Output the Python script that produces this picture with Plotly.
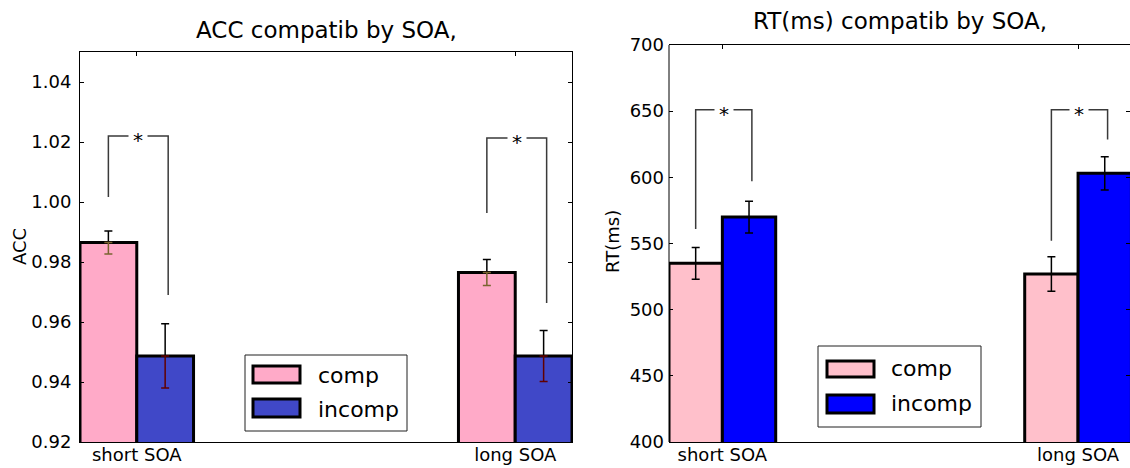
import plotly.graph_objects as go

W, H = 1130, 468

# ---------------- data ----------------
groups = ["short SOA", "long SOA"]
group_pos = [0, 1]
bar_width = 0.15
series_names = ["comp", "incomp"]

acc_comp = [0.9865, 0.9765]
acc_comp_err = [0.0038, 0.0043]
acc_incomp = [0.9487, 0.9487]
acc_incomp_err = [0.0107, 0.0085]

rt_comp = [535, 527]
rt_comp_err = [12, 13]
rt_incomp = [570, 603]
rt_incomp_err = [12, 12.5]

acc_yticks = [0.92, 0.94, 0.96, 0.98, 1.00, 1.02, 1.04]
rt_yticks = [400, 450, 500, 550, 600, 650, 700]

# significance brackets: (left arm end, bar height, right arm end)
acc_bracket_top = [1.022, 1.0213]
acc_bracket_left = [1.0017, 0.9963]
acc_bracket_right = [0.969, 0.9663]
rt_bracket_top = [651, 651]
rt_bracket_left = [561, 552]
rt_bracket_right = [597, 628.5]


def px_x(p):
    return p / W


def px_y(p):
    return 1 - p / H


FONT = "DejaVu Sans"
fig = go.Figure()

panels = [
    dict(xa="x", ya="y", comp=acc_comp, comp_err=acc_comp_err, incomp=acc_incomp,
         incomp_err=acc_incomp_err, colors=["#ffaac8", "#4048c8"],
         low_err_colors=["#7a6430", "#600000"],
         btop=acc_bracket_top, bl=acc_bracket_left, br=acc_bracket_right),
    dict(xa="x2", ya="y2", comp=rt_comp, comp_err=rt_comp_err, incomp=rt_incomp,
         incomp_err=rt_incomp_err, colors=["#ffc0cb", "#0000ff"],
         low_err_colors=["black", "black"],
         btop=rt_bracket_top, bl=rt_bracket_left, br=rt_bracket_right),
]

annotations = []
for P in panels:
    vals = [P["comp"], P["incomp"]]
    errs = [P["comp_err"], P["incomp_err"]]
    for k in range(2):
        fig.add_trace(go.Bar(
            x=group_pos, y=vals[k], width=bar_width, offset=k * bar_width,
            name=series_names[k], marker=dict(color=P["colors"][k],
                                              line=dict(color="black", width=3)),
            xaxis=P["xa"], yaxis=P["ya"], showlegend=False, hoverinfo="skip"))
    for k in range(2):
        cx = [p + k * bar_width + bar_width / 2 for p in group_pos]
        # upper half of error bar (black)
        fig.add_trace(go.Scatter(
            x=cx, y=vals[k], mode="markers",
            marker=dict(size=1, color="rgba(0,0,0,0)"),
            error_y=dict(type="data", symmetric=False, array=errs[k],
                         arrayminus=[0] * len(errs[k]), color="black",
                         thickness=1.5, width=4),
            xaxis=P["xa"], yaxis=P["ya"], showlegend=False, hoverinfo="skip"))
        # lower half of error bar
        fig.add_trace(go.Scatter(
            x=cx, y=vals[k], mode="markers",
            marker=dict(size=1, color="rgba(0,0,0,0)"),
            error_y=dict(type="data", symmetric=False, array=[0] * len(errs[k]),
                         arrayminus=errs[k], color=P["low_err_colors"][k],
                         thickness=1.5, width=4),
            xaxis=P["xa"], yaxis=P["ya"], showlegend=False, hoverinfo="skip"))
    # brackets
    for i, p in enumerate(group_pos):
        lx = p + bar_width / 2
        rx = p + bar_width * 1.5 + 0.008
        fig.add_trace(go.Scatter(
            x=[lx, lx, rx, rx], y=[P["bl"][i], P["btop"][i], P["btop"][i], P["br"][i]],
            mode="lines", line=dict(color="#3a3a3a", width=1.5),
            xaxis=P["xa"], yaxis=P["ya"], showlegend=False, hoverinfo="skip"))
        annotations.append(dict(
            x=(lx + rx) / 2, y=P["btop"][i], xref=P["xa"], yref=P["ya"], text="*",
            showarrow=False, bgcolor="white", borderpad=4, yshift=-4,
            font=dict(family=FONT, size=20, color="black")))

axis_common = dict(showgrid=False, zeroline=False, ticks="inside", ticklen=4,
                   tickwidth=1, tickcolor="black", linecolor="black", linewidth=1,
                   showline=True, mirror="ticks", automargin=False,
                   tickfont=dict(family=FONT, size=18, color="black"))

fig.update_layout(
    template="none",
    width=W, height=H, margin=dict(l=0, r=0, t=0, b=0, pad=0, autoexpand=False),
    plot_bgcolor="white", paper_bgcolor="white", showlegend=False,
    barmode="overlay", font=dict(family=FONT, size=18, color="black"),
    xaxis=dict(domain=[px_x(80), px_x(572)], range=[0, 1.3], anchor="y",
               tickvals=[p + bar_width for p in group_pos], ticktext=groups,
               ticklabelstandoff=-4, **axis_common),
    yaxis=dict(domain=[px_y(442), px_y(52)], range=[0.92, 1.05], anchor="x",
               tickvals=acc_yticks, ticktext=["%.2f" % v for v in acc_yticks],
               ticklabelstandoff=4, **axis_common),
    xaxis2=dict(domain=[px_x(669), 1.0], range=[0, 1.296], anchor="y2",
                tickvals=[p + bar_width for p in group_pos], ticktext=groups,
                ticklabelstandoff=-4, **axis_common),
    yaxis2=dict(domain=[px_y(442), px_y(45)], range=[400, 700], anchor="x2",
                tickvals=rt_yticks, ticktext=[str(v) for v in rt_yticks],
                ticklabelstandoff=4, **{**axis_common, "showline": False}),
)

# left spine of right panel (right spine is off-canvas)
shapes = [dict(type="line", xref="x2 domain", yref="y2 domain", x0=0, x1=0, y0=0, y1=1,
               line=dict(color="black", width=1))]

# titles and axis labels
annotations += [
    dict(x=px_x(326), y=px_y(30), xref="paper", yref="paper", text="ACC compatib by SOA,",
         showarrow=False, xanchor="center", yanchor="middle",
         font=dict(family=FONT, size=23, color="black")),
    dict(x=px_x(900), y=px_y(21), xref="paper", yref="paper", text="RT(ms) compatib by SOA,",
         showarrow=False, xanchor="center", yanchor="middle",
         font=dict(family=FONT, size=23, color="black")),
    dict(x=px_x(19), y=px_y(247), xref="paper", yref="paper", text="ACC", textangle=-90,
         showarrow=False, xanchor="center", yanchor="middle",
         font=dict(family=FONT, size=18, color="black")),
    dict(x=px_x(612), y=px_y(242), xref="paper", yref="paper", text="RT(ms)", textangle=-90,
         showarrow=False, xanchor="center", yanchor="middle",
         font=dict(family=FONT, size=18, color="black")),
]

# custom legends (matplotlib style)
legends = [
    dict(box=(245, 355, 407, 431), patches=[(253, 366, 300, 383), (253, 399, 300, 417)],
         tx=316, ty=[375, 409], colors=["#ffaac8", "#4048c8"]),
    dict(box=(818, 346, 981, 427), patches=[(827, 361, 874, 377), (827, 395, 874, 413)],
         tx=889, ty=[368, 403], colors=["#ffc0cb", "#0000ff"]),
]
for L in legends:
    x0, y0, x1, y1 = L["box"]
    shapes.append(dict(type="rect", xref="paper", yref="paper",
                       x0=px_x(x0), x1=px_x(x1), y0=px_y(y1), y1=px_y(y0),
                       line=dict(color="#202020", width=1), fillcolor="white"))
    for k, (a, b, c, d) in enumerate(L["patches"]):
        shapes.append(dict(type="rect", xref="paper", yref="paper",
                           x0=px_x(a), x1=px_x(c), y0=px_y(d), y1=px_y(b),
                           line=dict(color="black", width=3), fillcolor=L["colors"][k]))
        annotations.append(dict(x=px_x(L["tx"]), y=px_y(L["ty"][k]), xref="paper", yref="paper",
                                text=series_names[k], showarrow=False, xanchor="left",
                                yanchor="middle",
                                font=dict(family=FONT, size=22, color="black")))

fig.update_layout(shapes=shapes, annotations=annotations)
fig.write_html("out.html")
